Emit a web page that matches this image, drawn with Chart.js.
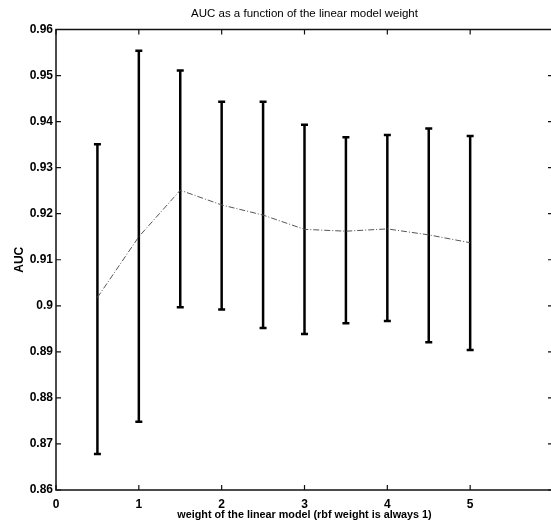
<!DOCTYPE html>
<html>
<head>
<meta charset="utf-8">
<script src="https://cdn.jsdelivr.net/npm/chart.js@4"></script>
<style>
  html, body { margin: 0; padding: 0; background: #fff; overflow: hidden; }
  #wrap { width: 560px; height: 528px; }
</style>
</head>
<body>
<div id="wrap"><canvas id="chart" width="560" height="528"></canvas></div>
<script>
// weights on the x axis
const weights = [0.5, 1, 1.5, 2, 2.5, 3, 3.5, 4, 4.5, 5];
// mean AUC (dash-dot line)
const aucMean = [0.9018, 0.9150, 0.9251, 0.9219, 0.9197, 0.9166, 0.9162, 0.9167, 0.9154, 0.9137];
// error bar ends
const aucLow = [0.8678, 0.8748, 0.8997, 0.8992, 0.8952, 0.8939, 0.8962, 0.8967, 0.8921, 0.8904];
const aucHigh = [0.9351, 0.9554, 0.9511, 0.9443, 0.9443, 0.9393, 0.9366, 0.9371, 0.9385, 0.9369];
// axis ticks
const xTicks = [0, 1, 2, 3, 4, 5, 6];
const yTicks = [0.86, 0.87, 0.88, 0.89, 0.9, 0.91, 0.92, 0.93, 0.94, 0.95, 0.96];

const font = "'Liberation Sans', Arial, Helvetica, sans-serif";

// vertical error bar segments, separated by gaps
const barSegs = [];
weights.forEach((w, i) => {
    barSegs.push({ x: w, y: aucLow[i] });
    barSegs.push({ x: w, y: aucHigh[i] });
    barSegs.push({ x: w, y: null });
});
const caps = [];
weights.forEach((w, i) => {
    caps.push({ x: w, y: aucLow[i] });
    caps.push({ x: w, y: aucHigh[i] });
});

// box + inward ticks like matlab
const boxPlugin = {
    id: "box",
    afterDatasetsDraw(chart) {
        const { ctx, chartArea: a, scales: { x, y } } = chart;
        ctx.save();
        ctx.strokeStyle = "#111";
        ctx.lineWidth = 1.5;
        ctx.strokeRect(a.left, a.top, a.right - a.left, a.bottom - a.top);
        ctx.lineWidth = 1.2;
        ctx.beginPath();
        xTicks.forEach(t => {
            const px = x.getPixelForValue(t);
            ctx.moveTo(px, a.bottom); ctx.lineTo(px, a.bottom - 5);
            ctx.moveTo(px, a.top); ctx.lineTo(px, a.top + 5);
        });
        yTicks.forEach(t => {
            const py = y.getPixelForValue(t);
            ctx.moveTo(a.left, py); ctx.lineTo(a.left + 5, py);
            ctx.moveTo(a.right, py); ctx.lineTo(a.right - 5, py);
        });
        ctx.stroke();
        ctx.restore();
    }
};

new Chart(document.getElementById("chart"), {
    type: "scatter",
    data: {
        datasets: [
            {
                data: weights.map((w, i) => ({ x: w, y: aucMean[i] })),
                showLine: true,
                borderColor: "#555",
                borderWidth: 1,
                borderDash: [6, 2, 1, 2],
                pointRadius: 0
            },
            {
                data: barSegs,
                showLine: true,
                spanGaps: false,
                borderColor: "#000",
                borderWidth: 2.5,
                pointRadius: 0
            },
            {
                data: caps,
                showLine: false,
                pointStyle: "line",
                pointRadius: 3.5,
                borderColor: "#000",
                borderWidth: 2.5
            }
        ]
    },
    options: {
        responsive: false,
        animation: false,
        layout: { padding: { top: 0, right: 6, bottom: 0, left: 0 } },
        plugins: {
            legend: { display: false },
            tooltip: { enabled: false },
            title: {
                display: true,
                fullSize: false,
                text: "AUC as a function of the linear model weight",
                color: "#000",
                font: { family: font, size: 11.5, weight: "normal" },
                padding: { top: 7, bottom: 8.7 }
            }
        },
        scales: {
            x: {
                type: "linear",
                min: 0,
                max: 6,
                afterFit: s => { s.height = 38; },
                afterBuildTicks: s => { s.ticks = xTicks.map(v => ({ value: v })); },
                grid: { display: false, drawTicks: false },
                border: { display: false },
                ticks: {
                    color: "#000",
                    padding: 7,
                    maxRotation: 0,
                    font: { family: font, size: 12, weight: "bold" },
                    callback: v => (v === 6 ? "" : String(v))
                },
                title: {
                    display: true,
                    text: "weight of the linear model (rbf weight is always 1)",
                    color: "#000",
                    font: { family: font, size: 10.8, weight: "bold" },
                    padding: { top: 0, bottom: 6 }
                }
            },
            y: {
                type: "linear",
                min: 0.86,
                max: 0.96,
                afterFit: s => { s.width = 56; },
                afterBuildTicks: s => { s.ticks = yTicks.map(v => ({ value: v })); },
                grid: { display: false, drawTicks: false },
                border: { display: false },
                ticks: {
                    color: "#000",
                    padding: 3,
                    font: { family: font, size: 12, weight: "bold" },
                    callback: v => String(Number(v.toFixed(2)))
                },
                title: {
                    display: true,
                    text: "AUC",
                    color: "#000",
                    font: { family: font, size: 12, weight: "bold" },
                    padding: { top: 12, bottom: 0 }
                }
            }
        }
    },
    plugins: [boxPlugin]
});
</script>
</body>
</html>
